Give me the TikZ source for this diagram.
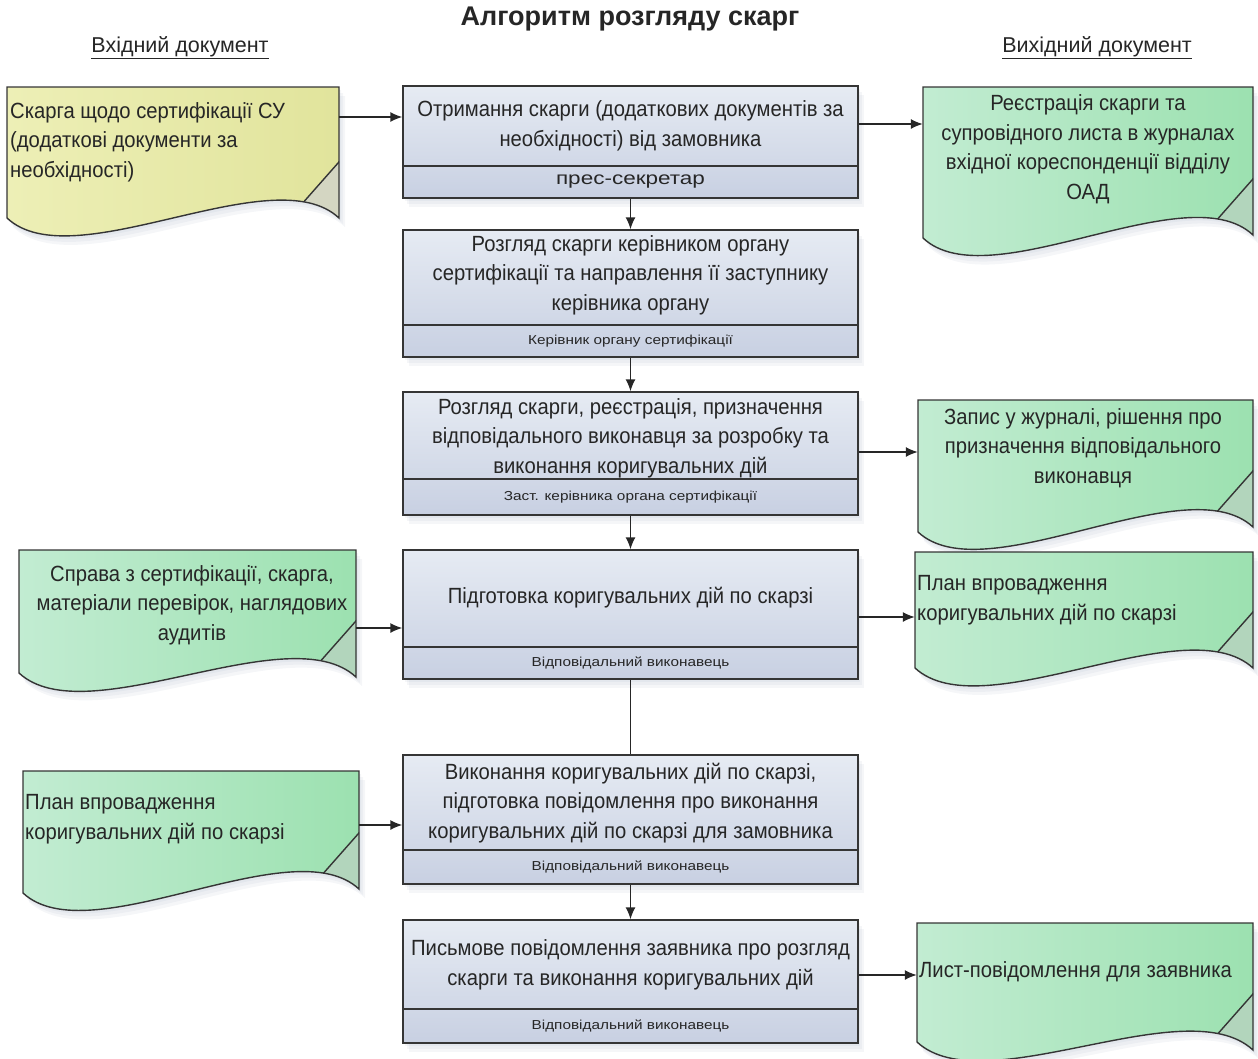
\documentclass[tikz,border=0pt]{standalone}
\usepackage{fontspec}
\setmainfont{Liberation Sans}
\newfontfamily\mainfnt[FakeStretch=0.92]{Liberation Sans}
\newfontfamily\subfnt[FakeStretch=1.18]{Liberation Sans}
\newfontfamily\pressfnt[FakeStretch=1.25]{Liberation Sans}
\usetikzlibrary{arrows.meta,fit}
\definecolor{linec}{HTML}{353535}
\definecolor{txtc}{HTML}{262626}
\definecolor{boxtop}{HTML}{E6EBF3}
\definecolor{boxbot}{HTML}{C8D0E2}
\definecolor{shc}{HTML}{9AA6BC}
\definecolor{grl}{HTML}{C2ECD2}
\definecolor{grr}{HTML}{9CE1B0}
\definecolor{gfold}{HTML}{B2D5BC}
\definecolor{yel}{HTML}{EDEFB6}
\definecolor{yer}{HTML}{E1E49C}
\definecolor{yfold}{HTML}{D4D6C2}
\newcommand\docshape[8]{%
  \pgfmathsetmacro\dw{#4-#2}%
  \path[#7, softshadow]
    (#2,#3) -- (#4,#3) -- (#4,#6) .. controls ({#4-0.2*\dw},{#6-62}) and ({#2+0.2*\dw},{#5+62}) .. (#2,#5) -- cycle;
  \begin{scope}
    \clip (#2,#3) -- (#4,#3) -- (#4,#6) .. controls ({#4-0.2*\dw},{#6-62}) and ({#2+0.2*\dw},{#5+62}) .. (#2,#5) -- cycle;
    \fill[#8] ({#4-57},{#6+8.5}) -- ({#4+11.4},{#6-69}) -- ({#4+40},{#6-69}) -- ({#4+40},{#6+80}) -- ({#4-57},{#6+80}) -- cycle;
    \draw[outl] ({#4-57},{#6+8.5}) -- ({#4+11.4},{#6-69});
  \end{scope}
  \draw[outl] (#2,#3) -- (#4,#3) -- (#4,#6) .. controls ({#4-0.2*\dw},{#6-62}) and ({#2+0.2*\dw},{#5+62}) .. (#2,#5) -- cycle;
  \node[fit={(#2,#3) (#4,#5)}, inner sep=0pt] (#1) {};
}
\newcommand\procbox[6]{% name, top, divider, bottom, text, text y
  \node[procshape, fit={(403,#2) (858,#4)}] (#1) {};
  \draw[outl] (#1.west |- 0,#3) -- (#1.east |- 0,#3);
  \node[maintxt] (#1t) at (630.5,#6) {#5};
}
\begin{document}
\begin{tikzpicture}[x=1pt,y=-1pt,
  outl/.style={draw=linec, line width=1.4pt},
  softshadow/.style={
    preaction={fill=shc, opacity=0.10, transform canvas={xshift=2pt,yshift=-3pt}},
    preaction={fill=shc, opacity=0.10, transform canvas={xshift=4pt,yshift=-6pt}},
    preaction={fill=shc, opacity=0.10, transform canvas={xshift=6pt,yshift=-9pt}}},
  procshape/.style={outl, top color=boxtop, bottom color=boxbot, inner sep=0pt, softshadow},
  maintxt/.style={font=\mainfnt\fontsize{22}{29.5}\selectfont, text=txtc, align=center, inner sep=0pt},
  lefttxt/.style={maintxt, align=left, anchor=west},
  subtxt/.style={font=\subfnt\fontsize{13}{14}\selectfont, text=txtc, inner sep=0pt},
  presstxt/.style={font=\pressfnt\fontsize{18}{20}\selectfont, text=txtc, inner sep=0pt},
  greendoc/.style={left color=grl, right color=grr},
  yellowdoc/.style={left color=yel, right color=yer},
  conn/.style={draw=black!85, line width=1.4pt},
  arr/.style={conn, -{Latex[length=12pt,width=10pt]}},
]
\useasboundingbox (0,0) rectangle (1258,1058);

% title and headers
\node[font=\bfseries\fontsize{27}{30}\selectfont, text=txtc, inner sep=0pt] (title) at (630,19) {Алгоритм розгляду скарг};
\node[font=\fontsize{21.5}{24}\selectfont, text=txtc, inner sep=0pt] (hin) at (180,48) {$\underline{\hbox{Вхідний документ}}$};
\node[font=\fontsize{21.5}{24}\selectfont, text=txtc, inner sep=0pt] (hout) at (1097,48) {$\underline{\hbox{Вихідний документ}}$};

% process boxes
\procbox{b1}{86}{166}{198}{Отримання скарги (додаткових документів за\\необхідності) від замовника}{126}
\node[presstxt] (b1s) at (630.5,182) {прес-секретар};
\procbox{b2}{230}{325}{357}{Розгляд скарги керівником органу\\сертифікації та направлення її заступнику\\керівника органу}{275}
\node[subtxt] (b2s) at (630.5,341) {Керівник органу сертифікації};
\procbox{b3}{392}{479}{515}{Розгляд скарги, реєстрація, призначення\\відповідального виконавця за розробку та\\виконання коригувальних дій}{438}
\node[subtxt] (b3s) at (630.5,497) {Заст. керівника органа сертифікації};
\procbox{b4}{550}{647}{679}{Підготовка коригувальних дій по скарзі}{598}
\node[subtxt] (b4s) at (630.5,663) {Відповідальний виконавець};
\procbox{b5}{755}{850}{884}{Виконання коригувальних дій по скарзі,\\підготовка повідомлення про виконання\\коригувальних дій по скарзі для замовника}{803}
\node[subtxt] (b5s) at (630.5,867) {Відповідальний виконавець};
\procbox{b6}{920}{1009}{1043}{Письмове повідомлення заявника про розгляд\\скарги та виконання коригувальних дій}{965}
\node[subtxt] (b6s) at (630.5,1026) {Відповідальний виконавець};

% documents
\docshape{d1}{7}{87}{339}{218}{218}{yellowdoc}{yfold}
\node[lefttxt] (d1t) at (10,142) {Скарга щодо сертифікації СУ\\(додаткові документи за\\необхідності)};
\docshape{d2}{19}{550}{356}{673}{677}{greendoc}{gfold}
\node[maintxt] (d2t) at (192,605) {Справа з сертифікації, скарга,\\матеріали перевірок, наглядових\\аудитів};
\docshape{d3}{23}{771}{359}{893}{889}{greendoc}{gfold}
\node[lefttxt] (d3t) at (25,819) {План впровадження\\коригувальних дій по скарзі};
\docshape{r1}{923}{87}{1253}{238}{235}{greendoc}{gfold}
\node[maintxt] (r1t) at (1088,149) {Реєстрація скарги та\\супровідного листа в журналах\\вхідної кореспонденції відділу\\ОАД};
\docshape{r2}{918}{400}{1253}{532}{527}{greendoc}{gfold}
\node[maintxt] (r2t) at (1083,448) {Запис у журналі, рішення про\\призначення відповідального\\виконавця};
\docshape{r3}{915}{552}{1253}{668}{668}{greendoc}{gfold}
\node[lefttxt] (r3t) at (917,600) {План впровадження\\коригувальних дій по скарзі};
\docshape{r4}{917}{923}{1253}{1042}{1050}{greendoc}{gfold}
\node[lefttxt] (r4t) at (919,972) {Лист-повідомлення для заявника};

% connector levels
\coordinate (y1) at (0,117);
\coordinate (y2) at (0,124);
\coordinate (y3) at (0,452);
\coordinate (y4) at (0,628);
\coordinate (y5) at (0,617);
\coordinate (y6) at (0,825);
\coordinate (y7) at (0,975);

% vertical flow
\draw[arr] (b1.south) -- (b2.north);
\draw[arr] (b2.south) -- (b3.north);
\draw[arr] (b3.south) -- (b4.north);
\draw[conn] (b4.south) -- (b5.north);
\draw[arr] (b5.south) -- (b6.north);

% horizontal connectors
\draw[arr] (d1.east |- y1) -- (b1.west |- y1);
\draw[arr] (b1.east |- y2) -- (r1.west |- y2);
\draw[arr] (b3.east |- y3) -- (r2.west |- y3);
\draw[arr] (d2.east |- y4) -- (b4.west |- y4);
\draw[arr] (b4.east |- y5) -- (r3.west |- y5);
\draw[arr] (d3.east |- y6) -- (b5.west |- y6);
\draw[arr] (b6.east |- y7) -- (r4.west |- y7);
\end{tikzpicture}
\end{document}
